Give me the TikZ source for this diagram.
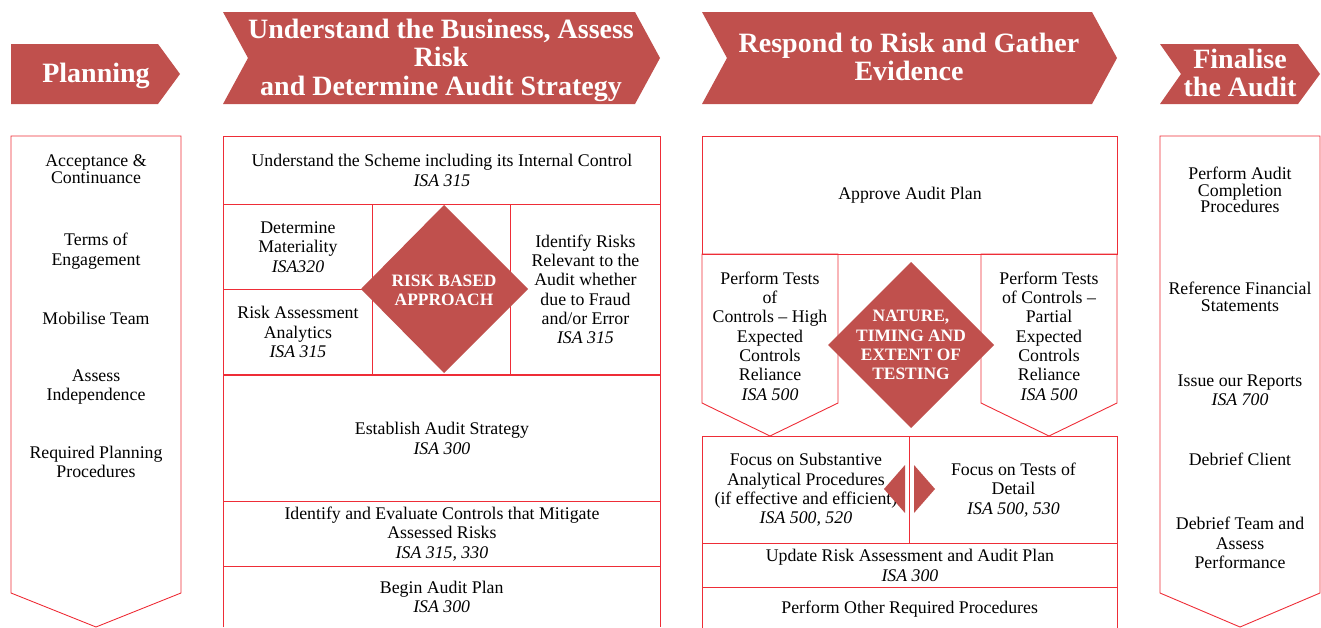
\documentclass[tikz,border=0pt]{standalone}
\usepackage{fontspec}
\setmainfont{Liberation Serif}
\definecolor{hdrred}{RGB}{192,80,77}
\definecolor{linered}{RGB}{238,45,55}
\newcommand\bodyf{\fontsize{17.8}{19.3}\selectfont}
\newcommand\tightf{\fontsize{17.8}{16.5}\selectfont}
\newcommand\hdrf{\fontsize{28}{28.5}\selectfont\bfseries}
\newcommand\diaf{\fontsize{17.4}{19.2}\selectfont\bfseries}
\tikzset{
  cell/.style={draw=linered, line width=0.9pt, inner sep=0pt, align=center, font=\bodyf, anchor=north west},
  opencell/.style={inner sep=0pt, align=center, font=\bodyf, anchor=north west},
  txt/.style={inner sep=0pt, align=center, font=\bodyf},
  tighttxt/.style={inner sep=0pt, align=center, font=\tightf},
  outline/.style={draw=linered, line width=0.9pt},
  hdr/.style={fill=hdrred},
  htxt/.style={inner sep=0pt, align=center, text=white, font=\hdrf},
  dtxt/.style={inner sep=0pt, align=center, text=white, font=\diaf},
}
\begin{document}
\begin{tikzpicture}[x=1pt,y=-1pt]
\useasboundingbox (0,0) rectangle (1321,627);

% ---------- header arrows ----------
\fill[hdr] (11,44) -- (158,44) -- (180,74) -- (158,104) -- (11,104) -- cycle;
\node[htxt] (hplan) at (96,76) {Planning};
\fill[hdr] (223,12) -- (635,12) -- (660,58) -- (635,104) -- (223,104) -- (248,58) -- cycle;
\node[htxt] (hund) at (441,60) {Understand the Business, Assess\\Risk\\and Determine Audit Strategy};
\fill[hdr] (702,12) -- (1092,12) -- (1117,58) -- (1092,104) -- (702,104) -- (727,58) -- cycle;
\node[htxt] (hresp) at (909,57) {Respond to Risk and Gather\\Evidence};
\fill[hdr] (1160,44) -- (1298,44) -- (1320,74) -- (1298,104) -- (1160,104) -- (1181,74) -- cycle;
\node[htxt] (hfin) at (1240,73) {Finalise\\the Audit};

% ---------- column 1: planning ----------
\draw[outline] (11,136) -- (181,136) -- (181,593) -- (96,627) -- (11,593) -- cycle;
\node[tighttxt] (p1) at (96,169) {Acceptance \&\\Continuance};
\node[txt] (p2) at (96,251) {Terms of\\Engagement};
\node[txt] (p3) at (96,318) {Mobilise Team};
\node[txt] (p4) at (96,387) {Assess\\Independence};
\node[txt] (p5) at (96,462) {Required Planning\\Procedures};

% ---------- column 2 ----------
\node[cell, minimum width=437pt, minimum height=68pt] (und) at (223,136)
  {Understand the Scheme including its Internal Control\\\textit{ISA 315}};
\node[cell, minimum width=149pt, minimum height=85pt] (mat) at (223,204)
  {Determine\\Materiality\\\textit{ISA320}};
\node[cell, minimum width=149pt, minimum height=85pt] (raa) at (223,289)
  {Risk Assessment\\Analytics\\\textit{ISA 315}};
\node[cell, minimum width=138pt, minimum height=170pt] (mid2) at (372,204) {};
\node[cell, minimum width=150pt, minimum height=170pt] (idr) at (510,204)
  {Identify Risks\\Relevant to the\\Audit whether\\due to Fraud\\and/or Error\\\textit{ISA 315}};
\fill[hdrred] (444,205) -- (528,289) -- (444,373) -- (361,289) -- cycle;
\node[dtxt] (rba) at (444,290) {RISK BASED\\APPROACH};
\node[cell, minimum width=437pt, minimum height=126pt] (eas) at (223,375)
  {Establish Audit Strategy\\\textit{ISA 300}};
\node[cell, minimum width=437pt, minimum height=65pt] (iec) at (223,501)
  {Identify and Evaluate Controls that Mitigate\\Assessed Risks\\\textit{ISA 315, 330}};
\node[opencell, minimum width=437pt, minimum height=61pt] (bap) at (223,566)
  {Begin Audit Plan\\\textit{ISA 300}};
\draw[outline] (bap.south west) -- (bap.north west) -- (bap.north east) -- (bap.south east);

% ---------- column 3 ----------
\node[cell, minimum width=415pt, minimum height=118pt] (aap) at (702,136) {Approve Audit Plan};
\draw[outline] (702,254) -- (838,254) -- (838,403) -- (770,436) -- (702,403) -- cycle;
\draw[outline] (981,254) -- (1117,254) -- (1117,403) -- (1049,436) -- (981,403) -- cycle;
\node[txt] (tch) at (770,336) {Perform Tests\\of\\Controls -- High\\Expected\\Controls\\Reliance\\\textit{ISA 500}};
\node[txt] (tcp) at (1049,336) {Perform Tests\\of Controls --\\Partial\\Expected\\Controls\\Reliance\\\textit{ISA 500}};
\fill[hdrred] (911,262) -- (994,345) -- (911,428) -- (828,345) -- cycle;
\node[dtxt] (nte) at (911,345) {NATURE,\\TIMING AND\\EXTENT OF\\TESTING};
\node[cell, minimum width=207pt, minimum height=107pt] (fsa) at (702,436)
  {Focus on Substantive\\Analytical Procedures\\(if effective and efficient)\\\textit{ISA 500, 520}};
\node[cell, minimum width=208pt, minimum height=107pt] (ftd) at (909,436)
  {Focus on Tests of\\Detail\\\textit{ISA 500, 530}};
\fill[hdrred] (905,465) -- (905,513) -- (884,489) -- cycle;
\fill[hdrred] (914,465) -- (914,513) -- (935,489) -- cycle;
\node[cell, minimum width=415pt, minimum height=44pt] (ura) at (702,543)
  {Update Risk Assessment and Audit Plan\\\textit{ISA 300}};
\node[opencell, minimum width=415pt, minimum height=44pt] (orp) at (702,587)
  {Perform Other Required Procedures};
\draw[outline] (orp.south west) -- (orp.north west) -- (orp.north east) -- (orp.south east);

% ---------- column 4 ----------
\draw[outline] (1160,136) -- (1320,136) -- (1320,593) -- (1240,627) -- (1160,593) -- cycle;
\node[tighttxt] (f1) at (1240,190) {Perform Audit\\Completion\\Procedures};
\node[tighttxt] (f2) at (1240,297) {Reference Financial\\Statements};
\node[txt] (f3) at (1240,390) {Issue our Reports\\\textit{ISA 700}};
\node[txt] (f4) at (1240,459) {Debrief Client};
\node[txt] (f5) at (1240,543) {Debrief Team and\\Assess\\Performance};
\end{tikzpicture}
\end{document}
